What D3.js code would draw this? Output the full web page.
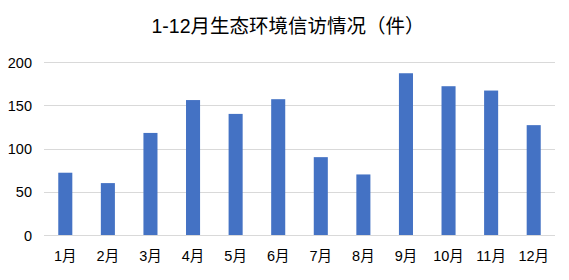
<!DOCTYPE html>
<html lang="zh">
<head>
<meta charset="UTF-8">
<title>1-12月生态环境信访情况（件）</title>
<script src="https://d3js.org/d3.v7.min.js"></script>
<style>
    body { margin: 0; background: #fff; }
    text { font-family: "Liberation Sans", "Noto Sans CJK SC", sans-serif; fill: #000; }
    .grid line { stroke: #d9d9d9; stroke-width: 1; }
    .title { font-size: 19.5px; }
    .tick text { font-size: 14.5px; }
</style>
</head>
<body>
<svg width="569" height="280"></svg>
<script>
    // 数据
    const months = ["1月", "2月", "3月", "4月", "5月", "6月", "7月", "8月", "9月", "10月", "11月", "12月"];
    const counts = [72, 60, 118, 156, 140, 157, 90, 70, 187, 172, 167, 127];
    const yTicks = [0, 50, 100, 150, 200];

    const width = 569, height = 280;
    const margin = { top: 62, right: 14, bottom: 45, left: 44 };

    const svg = d3.select("svg");

    const x = d3.scaleBand()
        .domain(months)
        .range([margin.left, width - margin.right])
        .paddingInner(0.67)
        .paddingOuter(0.335);

    const y = d3.scaleLinear()
        .domain([0, 200])
        .range([height - margin.bottom, margin.top]);

    // 网格线
    svg.append("g")
        .attr("class", "grid")
        .selectAll("line")
        .data(yTicks)
        .enter().append("line")
        .attr("x1", margin.left)
        .attr("x2", width - margin.right)
        .attr("y1", d => Math.round(y(d)) + 0.5)
        .attr("y2", d => Math.round(y(d)) + 0.5);

    // 柱子
    svg.append("g")
        .selectAll("rect")
        .data(counts)
        .enter().append("rect")
        .attr("x", (d, i) => x(months[i]))
        .attr("width", x.bandwidth())
        .attr("y", d => y(d))
        .attr("height", d => y(0) - y(d))
        .attr("fill", "#4472c4");

    // y 轴
    const yAxis = svg.append("g")
        .attr("transform", `translate(${margin.left - 12},0)`)
        .call(d3.axisLeft(y).tickValues(yTicks).tickSize(0).tickPadding(0));
    yAxis.select(".domain").remove();
    yAxis.selectAll(".tick text").attr("dy", "0.35em");

    // x 轴
    const xAxis = svg.append("g")
        .attr("transform", `translate(0,${height - margin.bottom})`)
        .call(d3.axisBottom(x).tickSize(0).tickPadding(16));
    xAxis.select(".domain").remove();

    // 标题
    svg.append("text")
        .attr("class", "title")
        .attr("x", 288)
        .attr("y", 33)
        .attr("text-anchor", "middle")
        .text("1-12月生态环境信访情况（件）");
</script>
</body>
</html>
